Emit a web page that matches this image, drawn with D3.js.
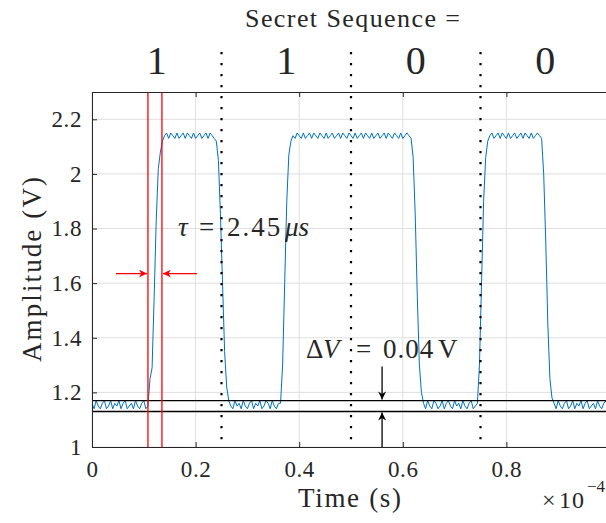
<!DOCTYPE html>
<html>
<head>
<meta charset="utf-8">
<script src="https://cdn.jsdelivr.net/npm/d3@7"></script>
<style>
  body { margin: 0; background: #fff; }
  svg text { font-family: "Liberation Serif", "DejaVu Serif", serif; fill: #262626; }
</style>
</head>
<body>
<div id="chart"></div>
<script>
// sample spacing of the scope trace (seconds)
const sampleStep = 0.004e-4;

// trace, read segment by segment (volts)
const low0  = [1.16,1.14,1.17,1.15,1.14,1.16,1.17,1.14,1.15,1.17,1.14,1.16,1.15,1.17,1.14,1.16,1.17,1.14,1.15,1.16,1.14,1.17,1.15,1.14,1.16,1.17,1.14];
const rise1 = [1.15,1.25,1.29,1.55,1.83,2.02,2.08,2.12];
const high1 = [2.14,2.15,2.13,2.15,2.14,2.13,2.15,2.13,2.14,2.15,2.13,2.15,2.14,2.13,2.15,2.13,2.14,2.15,2.13,2.14,2.15,2.13,2.15,2.14,2.13];
const fall1 = [2.12,2.05,1.85,1.6,1.35,1.22];
const low1  = [1.17,1.15,1.14,1.17,1.15,1.16,1.14,1.17,1.15,1.14,1.16,1.17,1.14,1.16,1.15,1.17,1.14,1.15,1.17,1.16,1.14,1.17,1.15,1.14,1.16,1.16];
const rise2 = [1.3,1.6,1.9,2.07,2.12];
const high2 = [2.14,2.13,2.15,2.14,2.13,2.15,2.13,2.14,2.15,2.13,2.15,2.14,2.13,2.15,2.14,2.13,2.15,2.13,2.14,2.15,2.13,2.14,2.15,2.13,2.15,2.14,2.13,2.15,2.14,2.13,
               2.15,2.13,2.14,2.15,2.13,2.15,2.14,2.13,2.15,2.13,2.14,2.15,2.13,2.14,2.15,2.13,2.15,2.14,2.13,2.15,2.14,2.13,2.15,2.13,2.14,2.15,2.14,2.13];
const fall2 = [2.06,1.85,1.55,1.3,1.2];
const low2  = [1.16,1.14,1.17,1.15,1.14,1.17,1.16,1.14,1.15,1.17,1.14,1.16,1.17,1.15,1.14,1.17,1.15,1.16,1.14,1.17,1.15,1.14,1.16,1.17,1.14,1.15,1.16];
const rise3 = [1.3,1.6,1.9,2.06,2.12];
const high3 = [2.14,2.15,2.13,2.14,2.15,2.13,2.15,2.14,2.13,2.15,2.13,2.14,2.15,2.13,2.14,2.15,2.13,2.15,2.14,2.13,2.15,2.13,2.14,2.15,2.14,2.13];
const fall3 = [2.0,1.75,1.45,1.25,1.18];
const low3  = [1.16,1.14,1.17,1.15,1.14,1.16,1.17,1.14,1.15,1.17,1.14,1.16,1.15,1.17,1.14,1.16,1.17,1.14,1.15,1.16,1.14,1.17,1.15,1.14,1.16,1.17,1.14,1.15];

const xTicks = [0, 0.2e-4, 0.4e-4, 0.6e-4, 0.8e-4, 1e-4];
const yTicks = [1, 1.2, 1.4, 1.6, 1.8, 2, 2.2];
const bitBoundaries = [0.25e-4, 0.5e-4, 0.75e-4];
const bits = ["1", "1", "0", "0"];
const tauMarkers = [0.108e-4, 0.135e-4];
const dvLevels = [1.17, 1.13];
const tauArrowLevel = 1.635;
const dvArrowTime = 0.56e-4;

const amplitude = [].concat(low0, rise1, high1, fall1, low1, rise2, high2, fall2, low2, rise3, high3, fall3, low3);
const trace = amplitude.map((v, i) => ({ t: i * sampleStep, v: v }));

const W = 606, H = 523;
const margin = { top: 92, right: -4, bottom: 76, left: 92 };

const svg = d3.select("#chart").append("svg").attr("width", W).attr("height", H);

const x = d3.scaleLinear().domain([0, 1e-4]).range([margin.left, W - margin.right]);
const y = d3.scaleLinear().domain([1, 2.3]).range([H - margin.bottom, margin.top]);

const defs = svg.append("defs");
defs.append("clipPath").attr("id", "plotClip")
    .append("rect")
    .attr("x", x(0)).attr("y", y(2.3))
    .attr("width", x(1e-4) - x(0)).attr("height", y(1) - y(2.3));

function arrowMarker(id, color) {
    defs.append("marker")
        .attr("id", id)
        .attr("viewBox", "0 0 10 10")
        .attr("refX", 10).attr("refY", 5)
        .attr("markerWidth", 11).attr("markerHeight", 8)
        .attr("markerUnits", "userSpaceOnUse")
        .attr("orient", "auto")
        .append("path")
        .attr("d", "M0,0 L10,5 L0,10 L3,5 Z")
        .attr("fill", color);
}
arrowMarker("arrRed", "#ff0000");
arrowMarker("arrBlack", "#000");

// grid
const grid = svg.append("g");
grid.selectAll(".gx").data(xTicks).enter().append("line")
    .attr("x1", d => x(d)).attr("x2", d => x(d))
    .attr("y1", y(1)).attr("y2", y(2.3))
    .attr("stroke", "#dfdfdf").attr("stroke-width", 1);
grid.selectAll(".gy").data(yTicks).enter().append("line")
    .attr("x1", x(0)).attr("x2", x(1e-4))
    .attr("y1", d => y(d)).attr("y2", d => y(d))
    .attr("stroke", "#dfdfdf").attr("stroke-width", 1);

const plot = svg.append("g").attr("clip-path", "url(#plotClip)");

// trace
plot.append("path")
    .datum(trace)
    .attr("fill", "none")
    .attr("stroke", "#0072BD")
    .attr("stroke-width", 1)
    .attr("d", d3.line().x(d => x(d.t)).y(d => y(d.v)));

// delta V levels
plot.selectAll(".dv").data(dvLevels).enter().append("line")
    .attr("x1", x(0)).attr("x2", x(1e-4))
    .attr("y1", d => y(d)).attr("y2", d => y(d))
    .attr("stroke", "#000").attr("stroke-width", 1.3);

// tau markers
plot.selectAll(".tau").data(tauMarkers).enter().append("line")
    .attr("x1", d => x(d)).attr("x2", d => x(d))
    .attr("y1", y(1)).attr("y2", y(2.3))
    .attr("stroke", "#ff0000").attr("stroke-width", 1.3);

// bit boundaries (dotted, extend above the axes)
svg.selectAll(".bound").data(bitBoundaries).enter().append("line")
    .attr("x1", d => x(d)).attr("x2", d => x(d))
    .attr("y1", 52).attr("y2", y(1))
    .attr("stroke", "#000").attr("stroke-width", 2.2)
    .attr("stroke-dasharray", "2.2,8.8");

// tau arrows
svg.append("line")
    .attr("x1", x(tauMarkers[0]) - 32).attr("x2", x(tauMarkers[0]) - 1)
    .attr("y1", y(tauArrowLevel)).attr("y2", y(tauArrowLevel))
    .attr("stroke", "#ff0000").attr("stroke-width", 1.3)
    .attr("marker-end", "url(#arrRed)");
svg.append("line")
    .attr("x1", x(tauMarkers[1]) + 35).attr("x2", x(tauMarkers[1]) + 1)
    .attr("y1", y(tauArrowLevel)).attr("y2", y(tauArrowLevel))
    .attr("stroke", "#ff0000").attr("stroke-width", 1.3)
    .attr("marker-end", "url(#arrRed)");

// delta V arrows
svg.append("line")
    .attr("x1", x(dvArrowTime)).attr("x2", x(dvArrowTime))
    .attr("y1", y(1.295)).attr("y2", y(dvLevels[0]) - 1)
    .attr("stroke", "#000").attr("stroke-width", 1.3)
    .attr("marker-end", "url(#arrBlack)");
svg.append("line")
    .attr("x1", x(dvArrowTime)).attr("x2", x(dvArrowTime))
    .attr("y1", y(1)).attr("y2", y(dvLevels[1]) + 1)
    .attr("stroke", "#000").attr("stroke-width", 1.3)
    .attr("marker-end", "url(#arrBlack)");

// axes
const xAxis = d3.axisBottom(x).tickValues(xTicks).tickSize(-5).tickPadding(14)
    .tickFormat(d => d3.format("~g")(Math.round(d * 1e5) / 10));
const yAxis = d3.axisLeft(y).tickValues(yTicks).tickSize(-5).tickPadding(10)
    .tickFormat(d3.format("~g"));

const gx = svg.append("g").attr("transform", "translate(0," + y(1) + ")").call(xAxis);
const gy = svg.append("g").attr("transform", "translate(" + x(0) + ",0)").call(yAxis);
[gx, gy].forEach(g => {
    g.select(".domain").attr("stroke", "#262626").attr("stroke-width", 1);
    g.selectAll(".tick line").attr("stroke", "#262626");
    g.selectAll(".tick text").style("font-size", "23px").style("letter-spacing", "0.6px").attr("fill", "#262626");
});

// top frame with inward ticks
const gTop = svg.append("g").attr("transform", "translate(0," + y(2.3) + ")")
    .call(d3.axisTop(x).tickValues(xTicks).tickSize(-5).tickFormat(""));
gTop.select(".domain").attr("stroke", "#262626");
gTop.selectAll(".tick line").attr("stroke", "#262626");

// axis labels
svg.append("text")
    .attr("x", 298).attr("y", 507)
    .attr("textLength", 103).attr("lengthAdjust", "spacing")
    .style("font-size", "27px")
    .text("Time (s)");
svg.append("text")
    .attr("transform", "translate(41," + ((y(1) + y(2.3)) / 2) + ") rotate(-90)")
    .attr("text-anchor", "middle")
    .attr("textLength", 185).attr("lengthAdjust", "spacing")
    .style("font-size", "27px")
    .text("Amplitude (V)");

const expo = svg.append("text").attr("y", 508).style("font-size", "24px");
expo.append("tspan").attr("x", 542).text("×");
expo.append("tspan").attr("x", 559).style("letter-spacing", "1px").text("10");
expo.append("tspan").attr("x", 587).attr("y", 492).style("font-size", "17px").text("−4");

// title and bits
svg.append("text")
    .attr("x", 245).attr("y", 27)
    .attr("textLength", 215).attr("lengthAdjust", "spacing")
    .style("font-size", "26px")
    .text("Secret Sequence =");
svg.selectAll(".bit").data(bits).enter().append("text")
    .attr("x", (d, i) => x((i + 0.5) * 0.25e-4))
    .attr("y", 74)
    .attr("text-anchor", "middle")
    .style("font-size", "40px")
    .text(d => d);

// annotations
const tauText = svg.append("text").attr("y", 236).style("font-size", "27px");
tauText.append("tspan").attr("x", 178).style("font-style", "italic").text("τ");
tauText.append("tspan").attr("x", 199).text("=");
tauText.append("tspan").attr("x", 227).style("letter-spacing", "2px").text("2.45");
tauText.append("tspan").attr("x", 285).style("font-style", "italic").text("μs");

const dvText = svg.append("text").attr("y", 358).style("font-size", "27px");
dvText.append("tspan").attr("x", 306).text("Δ");
dvText.append("tspan").attr("x", 323).style("font-style", "italic").text("V");
dvText.append("tspan").attr("x", 356).text("=");
dvText.append("tspan").attr("x", 383).style("letter-spacing", "1px").text("0.04");
dvText.append("tspan").attr("x", 438).text("V");
</script>
</body>
</html>
